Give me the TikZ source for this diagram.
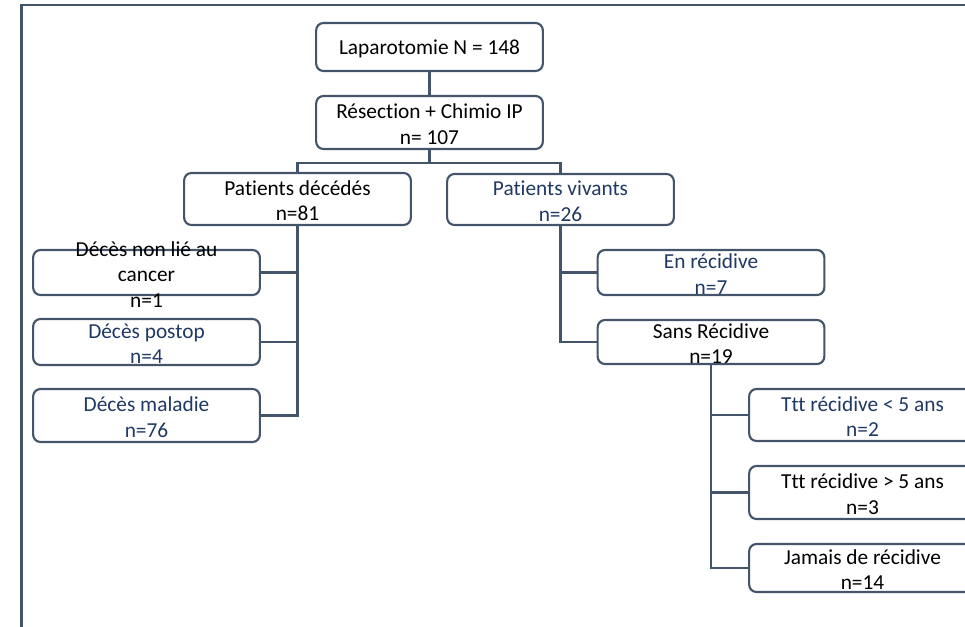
\documentclass[tikz,border=0pt]{standalone}
\usepackage{fontspec}
\setmainfont{Carlito}[Ligatures=NoCommon]
\usepackage{pgf,tikz}
\usetikzlibrary{arrows, shapes}
\usetikzlibrary{calc}
\usetikzlibrary{positioning}

\definecolor{cadre}{HTML}{44546A}
\definecolor{bleu}{HTML}{1F3864}

\begin{document}
\begin{tikzpicture}[x=0.75pt,y=-0.75pt]
\tikzset{
    boite/.style={
        draw=cadre, line width=1.6pt, rounded corners=5.5pt,
        minimum width=170pt, inner sep=0pt
    },
    texte/.style={
        anchor=center, align=center, inner sep=0pt, yshift=-1.3pt,
        font=\fontsize{16pt}{19.2pt}\selectfont
    },
    lien/.style={draw=cadre, line width=1.6pt},
}

  \useasboundingbox (0,0) rectangle (965,626);
  \clip (0,0) rectangle (965,626);

  % cadre
  \draw[lien] (21.5,640) |- (980,5.3);

  \begin{scope}
        \node[boite, minimum height=36pt, label={[texte]center:{Laparotomie N = 148}}] (lap) at (429.5,47) {};
        \node[boite, minimum height=39.75pt, label={[texte]center:{R\'esection + Chimio IP\\n= 107}}] (res) at (429.5,122.5) {};
        \node[boite, minimum height=39pt, label={[texte]center:{Patients d\'ec\'ed\'es\\n=81}}] (dec) at (297.5,199) {};
        \node[boite, minimum height=38.25pt, label={[texte,text=bleu]center:{Patients vivants\\n=26}}] (viv) at (560.5,199.5) {};
        \draw[lien] (lap) -- (res);
        \draw[lien] (res.south) -- ++(0,12.7) -| (dec.north);
        \draw[lien] (res.south) -- ++(0,12.7) -| (viv.north);
  \end{scope}

  \begin{scope}
        \node[boite, minimum height=33.75pt, label={[texte]center:{D\'ec\`es non li\'e au\\cancer\\n=1}}] (nonlie) at (146.5,272.5) {};
        \node[boite, minimum height=34.5pt, label={[texte,text=bleu]center:{D\'ec\`es postop\\n=4}}] (postop) at (146.5,342) {};
        \node[boite, minimum height=39.75pt, label={[texte,text=bleu]center:{D\'ec\`es maladie\\n=76}}] (maladie) at (146.5,415.5) {};
        \draw[lien] (dec.south) |- (nonlie.east);
        \draw[lien] (dec.south) |- (postop.east);
        \draw[lien] (dec.south) |- (maladie.east);
  \end{scope}

  \begin{scope}
        \node[boite, minimum height=33.75pt, label={[texte,text=bleu]center:{En r\'ecidive\\n=7}}] (enrec) at (711,272.5) {};
        \node[boite, minimum height=33pt, label={[texte]center:{Sans R\'ecidive\\n=19}}] (sansrec) at (711,342) {};
        \draw[lien] (viv.south) |- (enrec.west);
        \draw[lien] (viv.south) |- (sansrec.west);
        \node[boite, minimum height=39pt, label={[texte,text=bleu]center:{Ttt r\'ecidive < 5 ans\\n=2}}] (tttA) at (862.5,415) {};
        \node[boite, minimum height=39.75pt, label={[texte]center:{Ttt r\'ecidive > 5 ans\\n=3}}] (tttB) at (862.5,492.5) {};
        \node[boite, minimum height=36pt, label={[texte]center:{Jamais de r\'ecidive\\n=14}}] (jamais) at (862.5,568) {};
        \draw[lien] (sansrec.south) |- (tttA.west);
        \draw[lien] (sansrec.south) |- (tttB.west);
        \draw[lien] (sansrec.south) |- (jamais.west);
  \end{scope}

\end{tikzpicture}
\end{document}
